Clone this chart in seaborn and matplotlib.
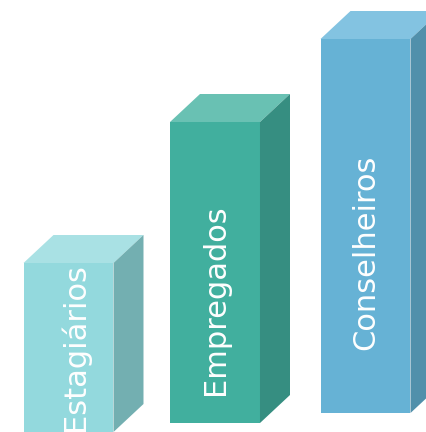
import matplotlib
matplotlib.use("Agg")
import matplotlib.pyplot as plt
from matplotlib.patches import Polygon
import seaborn as sns
import pandas as pd

# ---- data ----
categories = ["Estagiários", "Empregados", "Conselheiros"]
values = [169, 301, 374]

# ---- style ----
front_colors = ["#93D9DD", "#41AF9E", "#66B2D5"]
top_colors = ["#A9E1E4", "#69C1B3", "#83C3E1"]
side_colors = ["#73AFB1", "#368E81", "#5190AB"]
baselines = [0, 9, 19]          # perspective offset of each bar's base (px)
x_shift = [0, -2.5 / 149, -1 / 149]
label_frac = [0.50, 0.41, 0.43]  # label centre as fraction of bar height
label_dx = [0.04, 0.0, 0.0]
depth_x = 30 / 149.0
depth_y = 28

sns.set_theme(style="white")
plt.rcParams["font.family"] = ["DejaVu Sans"]

fig = plt.figure(figsize=(4.26, 4.32), dpi=100)
ax = fig.add_axes([0, 0, 1, 1])

df = pd.DataFrame({"cat": categories, "val": values})
sns.barplot(data=df, x="cat", y="val", hue="cat", palette=front_colors,
            width=0.604, legend=False, ax=ax, saturation=1, linewidth=0)

ax.set_xlim(-68.5 / 149, (426 - 68.5) / 149)
ax.set_ylim(0, 432)
ax.axis("off")

bars = sorted([p for p in ax.patches if p.get_height() > 0],
              key=lambda p: p.get_x())
for i, p in enumerate(bars):
    p.set_y(baselines[i])
    p.set_x(p.get_x() + x_shift[i])
    x0 = p.get_x()
    x1 = x0 + p.get_width()
    y0 = p.get_y()
    y1 = y0 + p.get_height()
    top = Polygon([(x0, y1), (x1, y1), (x1 + depth_x, y1 + depth_y),
                   (x0 + depth_x, y1 + depth_y)], closed=True,
                  facecolor=top_colors[i], edgecolor="none")
    side = Polygon([(x1, y0), (x1, y1), (x1 + depth_x, y1 + depth_y),
                    (x1 + depth_x, y0 + depth_y)], closed=True,
                   facecolor=side_colors[i], edgecolor="none")
    ax.add_patch(top)
    ax.add_patch(side)
    ax.text((x0 + x1) / 2 + label_dx[i], y0 + label_frac[i] * (y1 - y0),
            categories[i], rotation=90, ha="center", va="center",
            color="white", fontsize=22, rotation_mode="anchor")

fig.savefig("out.png", dpi=100)
